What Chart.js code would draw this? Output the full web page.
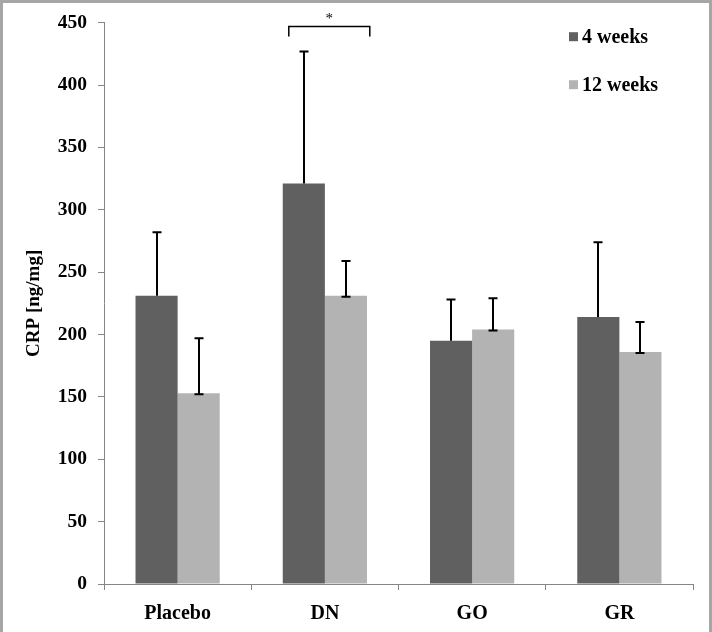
<!DOCTYPE html>
<html>
<head>
<meta charset="utf-8">
<script src="https://cdn.jsdelivr.net/npm/chart.js@4.4.0/dist/chart.umd.min.js"></script>
<style>
html,body{margin:0;padding:0;background:#fff;}
#wrap{width:712px;height:632px;position:relative;}
</style>
</head>
<body>
<div id="wrap"><canvas id="c" width="712" height="632"></canvas></div>
<script>
const categories = ["Placebo", "DN", "GO", "GR"];
const seriesNames = ["4 weeks", "12 weeks"];
const weeks4 = [231, 321, 195, 214];
const weeks12 = [153, 231, 204, 186];
const err4 = [51, 106, 33, 60];
const err12 = [44, 28, 25, 24];
const yTicks = [0, 50, 100, 150, 200, 250, 300, 350, 400, 450];
const yTitle = "CRP [ng/mg]";
const sigLabel = "*";
const sigCategory = 1;

const DARK = "#606060", LIGHT = "#b3b3b3";
const FONT = "'Liberation Serif', 'Times New Roman', serif";

const errorBars = {
  id: "errorBars",
  afterDatasetsDraw(chart) {
    const ctx = chart.ctx, ys = chart.scales.y;
    chart.data.datasets.forEach((ds, i) => {
      const meta = chart.getDatasetMeta(i);
      meta.data.forEach((bar, j) => {
        const x = Math.round(bar.x);
        const yTop = ys.getPixelForValue(ds.data[j] + ds.errors[j]);
        const yBot = bar.y;
        ctx.save();
        ctx.strokeStyle = "#000";
        ctx.lineWidth = 2;
        ctx.beginPath();
        ctx.moveTo(x, yBot); ctx.lineTo(x, yTop);
        ctx.moveTo(x - 4.5, yTop); ctx.lineTo(x + 4.5, yTop);
        if (ds.bottomCap) { ctx.moveTo(x - 4.5, yBot + 1); ctx.lineTo(x + 4.5, yBot + 1); }
        ctx.stroke();
        ctx.restore();
      });
    });
  }
};

const extras = {
  id: "extras",
  afterDraw(chart) {
    const ctx = chart.ctx, ca = chart.chartArea, xs = chart.scales.x, ys = chart.scales.y;
    ctx.save();
    // significance bracket
    const cx = xs.getPixelForValue(sigCategory);
    const catW = xs.getPixelForValue(1) - xs.getPixelForValue(0);
    const x1 = cx - catW * 0.245, x2 = cx + catW * 0.305;
    const yb = ys.getPixelForValue(447), ye = ys.getPixelForValue(439);
    ctx.strokeStyle = "#000"; ctx.lineWidth = 1.5;
    ctx.beginPath();
    ctx.moveTo(x1, ye); ctx.lineTo(x1, yb); ctx.lineTo(x2, yb); ctx.lineTo(x2, ye);
    ctx.stroke();
    ctx.fillStyle = "#000";
    ctx.font = "15px " + FONT;
    ctx.textAlign = "center"; ctx.textBaseline = "middle";
    ctx.fillText(sigLabel, (x1 + x2) / 2, ys.getPixelForValue(453));
    // legend
    const lx = ca.right - 124;
    const colors = [DARK, LIGHT];
    ctx.font = "bold 20px " + FONT;
    ctx.textAlign = "left";
    seriesNames.forEach((n, i) => {
      const y = ca.top + 14 + i * 48;
      ctx.fillStyle = colors[i];
      ctx.fillRect(lx, y - 4.5, 9, 9);
      ctx.fillStyle = "#000";
      ctx.fillText(n, lx + 13, y + 1);
    });
    // frame
    ctx.strokeStyle = "#a6a6a6"; ctx.lineWidth = 3;
    ctx.beginPath();
    ctx.moveTo(1.5, 632); ctx.lineTo(1.5, 1.5); ctx.lineTo(710.5, 1.5); ctx.lineTo(710.5, 632);
    ctx.stroke();
    ctx.restore();
  }
};

new Chart(document.getElementById("c"), {
  type: "bar",
  data: {
    labels: categories,
    datasets: [
      { label: seriesNames[0], data: weeks4, errors: err4, backgroundColor: DARK, bottomCap: false },
      { label: seriesNames[1], data: weeks12, errors: err12, backgroundColor: LIGHT, bottomCap: true }
    ]
  },
  options: {
    responsive: false,
    animation: false,
    devicePixelRatio: 1,
    layout: { padding: { left: 0, right: 19, top: 21, bottom: 0 } },
    datasets: { bar: { categoryPercentage: 0.572, barPercentage: 1.0 } },
    plugins: { legend: { display: false }, tooltip: { enabled: false } },
    scales: {
      x: {
        grid: { offset: true, drawOnChartArea: false, color: "#868686", tickLength: 6, tickColor: "#868686" },
        border: { color: "#868686", width: 1 },
        ticks: { color: "#000", padding: 12, font: { family: FONT, size: 20, weight: "bold" } },
        afterFit(s) { s.height = 48; }
      },
      y: {
        min: 0, max: 450,
        afterBuildTicks(s) { s.ticks = yTicks.map(v => ({ value: v })); },
        grid: { drawOnChartArea: false, color: "#868686", tickLength: 6 },
        border: { color: "#868686", width: 1 },
        ticks: { color: "#000", padding: 11, font: { family: FONT, size: 19.5, weight: "bold" } },
        title: { display: true, text: yTitle, color: "#000", padding: { top: 23, bottom: 0 }, font: { family: FONT, size: 19, weight: "bold" } },
        afterFit(s) { s.width = 104; }
      }
    }
  },
  plugins: [errorBars, extras]
});
</script>
</body>
</html>
